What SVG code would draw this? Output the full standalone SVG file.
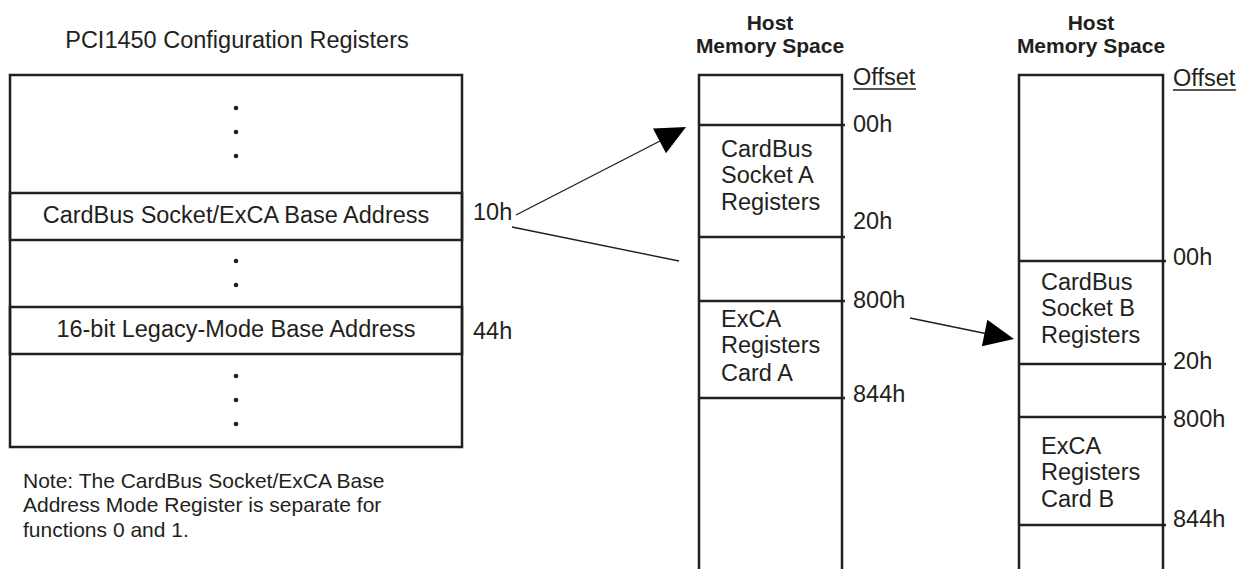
<svg xmlns="http://www.w3.org/2000/svg" width="1240" height="569" viewBox="0 0 1240 569">
<style>
.t{font-family:"Liberation Sans",Arial,sans-serif;font-size:23.5px;fill:#231f20}
.n{font-family:"Liberation Sans",Arial,sans-serif;font-size:21px;fill:#231f20}
.b{font-family:"Liberation Sans",Arial,sans-serif;font-size:21px;font-weight:bold;fill:#231f20;text-anchor:middle}
.c{text-anchor:middle}
.box{fill:none;stroke:#231f20;stroke-width:2.5}
.ln{stroke:#231f20;stroke-width:2.5}
.ul{stroke:#231f20;stroke-width:1.5}
.con{stroke:#231f20;stroke-width:1.4;fill:none}
.ah{fill:#000}
.dot{fill:#231f20}
</style>
<rect width="1240" height="569" fill="#fff"/>

<g id="pci-config">
<text class="t c" x="237" y="48">PCI1450 Configuration Registers</text>
<rect class="box" x="10" y="75" width="452" height="372"/>
<circle class="dot" cx="236" cy="108" r="2.3"/>
<circle class="dot" cx="236" cy="132" r="2.3"/>
<circle class="dot" cx="236" cy="156" r="2.3"/>
<circle class="dot" cx="236" cy="261" r="2.3"/>
<circle class="dot" cx="236" cy="285" r="2.3"/>
<circle class="dot" cx="236" cy="376" r="2.3"/>
<circle class="dot" cx="236" cy="400" r="2.3"/>
<circle class="dot" cx="236" cy="424" r="2.3"/>
</g>
<g id="row-cardbus">
<rect class="box" x="10" y="193" width="452" height="47"/>
<text class="t c" x="236" y="223">CardBus Socket/ExCA Base Address</text>
<text class="t" x="473" y="220">10h</text>
</g>
<g id="row-legacy">
<rect class="box" x="10" y="307" width="452" height="47"/>
<text class="t c" x="236" y="337">16-bit Legacy-Mode Base Address</text>
<text class="t" x="473" y="339">44h</text>
</g>
<g id="note">
<text class="n" x="23" y="488">Note: The CardBus Socket/ExCA Base</text>
<text class="n" x="23" y="512">Address Mode Register is separate for</text>
<text class="n" x="23" y="537">functions 0 and 1.</text>
</g>

<g id="host-memory-a">
<text class="b" x="770" y="30">Host</text>
<text class="b" x="770" y="53">Memory Space</text>
<path class="box" d="M699,572 V75 H842 V572"/>
<text class="t" x="853" y="85">Offset</text>
<line class="ul" x1="853" y1="89" x2="916" y2="89"/>
</g>
<g id="socket-a-regs">
<line class="ln" x1="699" y1="125" x2="845" y2="125"/>
<line class="ln" x1="699" y1="237" x2="845" y2="237"/>
<text class="t" x="721" y="157">CardBus</text>
<text class="t" x="721" y="183">Socket A</text>
<text class="t" x="721" y="210">Registers</text>
<text class="t" x="853" y="132">00h</text>
<text class="t" x="853" y="229">20h</text>
</g>
<g id="exca-a-regs">
<line class="ln" x1="699" y1="301" x2="845" y2="301"/>
<line class="ln" x1="699" y1="398" x2="845" y2="398"/>
<text class="t" x="721" y="327">ExCA</text>
<text class="t" x="721" y="353">Registers</text>
<text class="t" x="721" y="381">Card A</text>
<text class="t" x="853" y="308">800h</text>
<text class="t" x="853" y="402">844h</text>
</g>

<g id="host-memory-b">
<text class="b" x="1091" y="30">Host</text>
<text class="b" x="1091" y="53">Memory Space</text>
<path class="box" d="M1019,572 V75 H1163 V572"/>
<text class="t" x="1173" y="86">Offset</text>
<line class="ul" x1="1173" y1="90" x2="1236" y2="90"/>
</g>
<g id="socket-b-regs">
<line class="ln" x1="1019" y1="261" x2="1166" y2="261"/>
<line class="ln" x1="1019" y1="364" x2="1166" y2="364"/>
<text class="t" x="1041" y="290">CardBus</text>
<text class="t" x="1041" y="316">Socket B</text>
<text class="t" x="1041" y="343">Registers</text>
<text class="t" x="1173" y="265">00h</text>
<text class="t" x="1173" y="369">20h</text>
</g>
<g id="exca-b-regs">
<line class="ln" x1="1019" y1="417" x2="1166" y2="417"/>
<line class="ln" x1="1019" y1="525" x2="1166" y2="525"/>
<text class="t" x="1041" y="454">ExCA</text>
<text class="t" x="1041" y="480">Registers</text>
<text class="t" x="1041" y="507">Card B</text>
<text class="t" x="1173" y="427">800h</text>
<text class="t" x="1173" y="527">844h</text>
</g>

<g id="connectors">
<line class="con" x1="516" y1="215" x2="662" y2="140"/>
<polygon class="ah" points="686,127 653,128.5 666,153.3"/>
<line class="con" x1="512" y1="227" x2="679" y2="261"/>
<line class="con" x1="910" y1="318" x2="988" y2="334"/>
<polygon class="ah" points="1014,339 987.3,319.8 981.9,346.2"/>
</g>
</svg>
